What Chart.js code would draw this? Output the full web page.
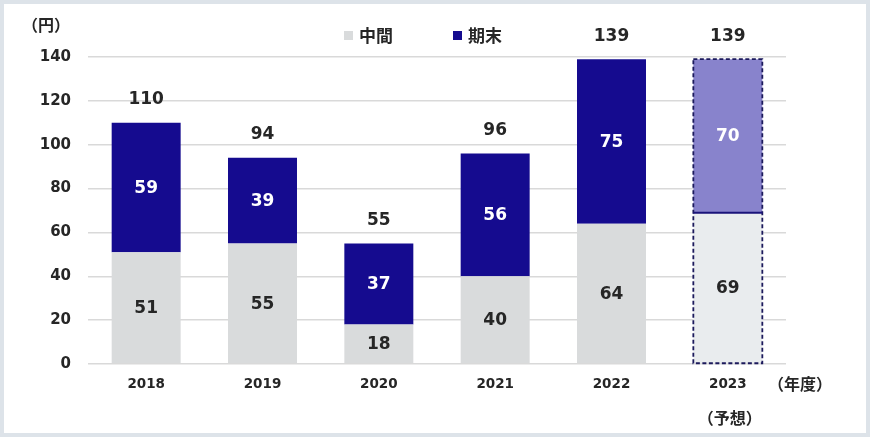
<!DOCTYPE html>
<html>
<head>
<meta charset="utf-8">
<script src="https://cdn.jsdelivr.net/npm/chart.js@4"></script>
<style>
  html, body { margin: 0; padding: 0; background: #fff; }
  .wrap { position: relative; width: 870px; height: 437px; }
  .frame { position: absolute; left: 0; top: 0; width: 870px; height: 437px;
           box-sizing: border-box; border: 4px solid #dde3e9; pointer-events: none; }
</style>
</head>
<body>
<div class="wrap">
  <canvas id="dividendChart" width="870" height="437"></canvas>
  <div class="frame"></div>
</div>
<script>
// chart data
const years = ['2018', '2019', '2020', '2021', '2022', '2023'];
const interim = [51, 55, 18, 40, 64, 69];
const yearEnd = [59, 39, 37, 56, 75, 70];
const totals = [110, 94, 55, 96, 139, 139];
const yTicks = [0, 20, 40, 60, 80, 100, 120, 140];
const forecastIndex = 5;

const NUM_FONT = "'DejaVu Sans', 'Noto Sans CJK JP', sans-serif";
const JP_FONT = "'Noto Sans CJK JP', 'DejaVu Sans', sans-serif";

const GRAY = '#d9dbdc';
const GRAY_FC = '#e9ecee';
const NAVY = '#150b8f';
const NAVY_FC = '#8883cc';

function colorsFor(base, forecast) {
  return years.map((y, i) => i === forecastIndex ? forecast : base);
}

// labels, forecast outline and legend
const overlayPlugin = {
  id: 'overlay',
  afterDatasetsDraw(chart) {
    const ctx = chart.ctx;
    const m0 = chart.getDatasetMeta(0);
    const m1 = chart.getDatasetMeta(1);

    // forecast bar: dashed outline, solid line between segments
    const low = m0.data[forecastIndex];
    const high = m1.data[forecastIndex];
    const half = low.width / 2;
    ctx.save();
    ctx.strokeStyle = '#1c1a5c';
    ctx.lineWidth = 1.8;
    ctx.setLineDash([4, 2.5]);
    ctx.strokeRect(low.x - half, high.y, low.width, low.base - high.y);
    ctx.setLineDash([]);
    ctx.strokeStyle = '#1a137a';
    ctx.lineWidth = 2;
    ctx.beginPath();
    ctx.moveTo(low.x - half, low.y);
    ctx.lineTo(low.x + half, low.y);
    ctx.stroke();
    ctx.restore();

    ctx.save();
    ctx.textAlign = 'center';
    ctx.textBaseline = 'middle';
    ctx.font = 'bold 17px ' + NUM_FONT;
    m0.data.forEach((bar, i) => {
      ctx.fillStyle = '#262626';
      ctx.fillText(interim[i], bar.x, (bar.y + bar.base) / 2 + 1);
    });
    m1.data.forEach((bar, i) => {
      ctx.fillStyle = '#ffffff';
      ctx.fillText(yearEnd[i], bar.x, (bar.y + bar.base) / 2 + 1);
      ctx.fillStyle = '#262626';
      ctx.fillText(totals[i], bar.x, chart.scales.y.getPixelForValue(totals[i]) - 23);
    });
    ctx.restore();
  },
  afterDraw(chart) {
    const ctx = chart.ctx;
    ctx.save();
    ctx.textBaseline = 'middle';
    ctx.fillStyle = '#262626';

    // legend
    ctx.font = 'bold 17px ' + JP_FONT;
    const legendX = [344, 453];
    chart.data.datasets.forEach((ds, i) => {
      ctx.fillStyle = ds.backgroundColor[0];
      ctx.fillRect(legendX[i], 31, 9, 9);
      ctx.fillStyle = '#262626';
      ctx.textAlign = 'left';
      ctx.fillText(ds.label, legendX[i] + 15, 36);
    });

    // unit labels
    ctx.font = 'bold 16px ' + JP_FONT;
    ctx.textAlign = 'center';
    ctx.fillText('（円）', 46, 25);
    ctx.fillText('（年度）', 800, 384);
    const fx = chart.scales.x.getPixelForValue(forecastIndex);
    ctx.fillText('（予想）', fx + 2, 418);
    ctx.restore();
  }
};

new Chart(document.getElementById('dividendChart').getContext('2d'), {
  type: 'bar',
  data: {
    labels: years,
    datasets: [
      {
        label: '中間',
        data: interim,
        backgroundColor: colorsFor(GRAY, GRAY_FC),
        borderWidth: 0
      },
      {
        label: '期末',
        data: yearEnd,
        backgroundColor: colorsFor(NAVY, NAVY_FC),
        borderWidth: 0
      }
    ]
  },
  options: {
    responsive: false,
    animation: false,
    devicePixelRatio: 1,
    layout: { padding: { top: 57, right: 84, left: 0, bottom: 0 } },
    datasets: {
      bar: { barPercentage: 0.593, categoryPercentage: 1 }
    },
    plugins: {
      legend: { display: false },
      tooltip: { enabled: false }
    },
    scales: {
      x: {
        stacked: true,
        grid: { display: false, drawTicks: false },
        border: { display: false },
        ticks: {
          color: '#262626',
          padding: 12,
          font: { family: NUM_FONT, size: 13.5, weight: 'bold' }
        },
        afterFit(scale) { scale.height = 73; }
      },
      y: {
        stacked: true,
        min: 0,
        max: 140,
        afterBuildTicks(scale) {
          scale.ticks = yTicks.map(v => ({ value: v }));
        },
        grid: { color: '#d9d9d9', lineWidth: 1.5, drawTicks: false },
        border: { display: false },
        ticks: {
          color: '#262626',
          padding: 17,
          font: { family: NUM_FONT, size: 15, weight: 'bold' }
        },
        afterFit(scale) { scale.width = 88; }
      }
    }
  },
  plugins: [overlayPlugin]
});
</script>
</body>
</html>
